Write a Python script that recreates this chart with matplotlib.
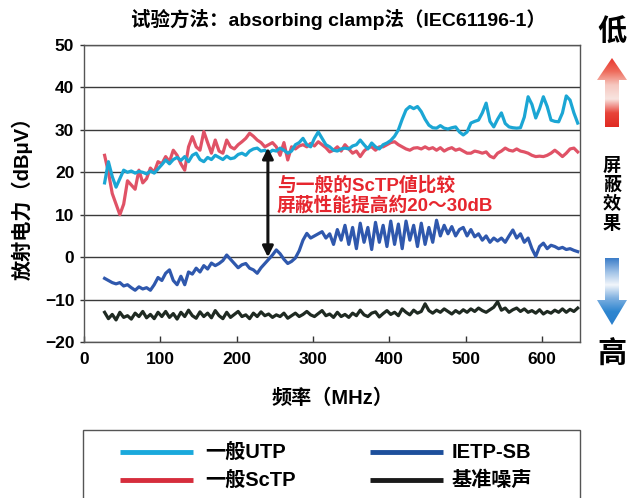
import numpy as np
import matplotlib
matplotlib.use("Agg")
import matplotlib.pyplot as plt
from matplotlib.patches import Polygon, Rectangle
from matplotlib.lines import Line2D
from matplotlib.colors import LinearSegmentedColormap

plt.rcParams['font.family'] = ['Liberation Sans', 'Noto Sans CJK SC', 'DejaVu Sans']
plt.rcParams['font.weight'] = 'bold'

# ---------------- data ----------------
freq = [27, 32, 37, 42, 47, 52, 57, 62, 67, 72, 77, 82, 87, 92, 97, 102, 107, 112, 117, 122,
        127, 132, 137, 142, 147, 152, 157, 162, 167, 172, 177, 182, 187, 192, 197, 202, 207, 212, 217, 222,
        227, 232, 237, 242, 247, 252, 257, 262, 267, 272, 277, 282, 287, 292, 297, 302, 307, 312, 317, 322,
        327, 332, 337, 342, 347, 352, 357, 362, 367, 372, 377, 382, 387, 392, 397, 402, 407, 412, 417, 422,
        427, 432, 437, 442, 447, 452, 457, 462, 467, 472, 477, 482, 487, 492, 497, 502, 507, 512, 517, 522,
        527, 532, 537, 542, 547, 552, 557, 562, 567, 572, 577, 582, 587, 592, 597, 602, 607, 612, 617, 622,
        627, 632, 637, 642, 647]

utp = [17.5, 22.5, 19.0, 16.5, 18.5, 20.5, 20.0, 20.3, 19.8, 20.2, 20.0, 19.6, 20.3, 19.8, 20.8, 21.8, 22.9, 22.0, 23.0, 23.5,
       22.8, 23.7, 22.5, 24.0, 24.5, 23.0, 22.5, 23.5, 23.0, 24.0, 23.5, 23.0, 23.8, 23.2, 23.4, 24.2, 24.5, 24.0, 25.0, 25.5,
       25.7, 25.0, 25.2, 24.5, 25.2, 25.0, 25.7, 25.2, 24.5, 25.0, 26.5, 27.0, 28.0, 26.5, 26.0, 28.0, 29.5, 28.0, 26.5, 26.0,
       25.2, 25.0, 25.5, 25.7, 25.5, 26.2, 26.5, 27.6, 26.5, 25.5, 26.9, 26.0, 25.5, 26.5, 26.9, 27.5, 28.5, 30.0, 32.5, 34.7,
       35.5, 35.0, 35.5, 34.3, 32.5, 31.1, 30.5, 30.4, 31.0, 30.4, 30.2, 30.5, 30.7, 29.5, 28.8, 29.5, 31.6, 32.0, 32.3, 34.0,
       36.3, 32.0, 30.7, 32.5, 34.0, 31.5, 30.7, 30.5, 30.4, 30.5, 33.0, 37.8, 36.0, 32.8, 35.0, 37.8, 35.5, 32.3, 32.0, 31.9,
       34.0, 38.0, 37.0, 34.0, 31.6]

sctp = [24.0, 20.0, 15.0, 12.5, 10.0, 12.5, 18.0, 17.0, 16.0, 20.5, 17.5, 18.5, 21.0, 20.0, 22.5, 22.0, 23.7, 22.5, 25.2, 24.0,
        22.0, 20.5, 26.0, 28.4, 26.0, 25.2, 29.6, 27.0, 24.5, 27.6, 25.0, 24.5, 27.6, 26.0, 25.5, 26.5, 27.2, 28.0, 29.2, 28.5,
        27.6, 27.0, 26.0, 26.5, 27.0, 26.0, 24.0, 27.0, 22.9, 26.0, 25.5, 26.2, 26.5, 26.0, 26.8, 26.2, 27.2, 26.5, 25.8, 24.8,
        25.2, 26.0, 25.0, 26.5, 25.5, 24.5, 25.0, 23.7, 25.0, 25.8, 26.0, 25.2, 26.0, 26.0, 26.5, 27.0, 27.2, 26.5, 26.0, 25.5,
        25.2, 25.7, 25.8, 25.5, 26.0, 25.5, 25.8, 25.2, 25.8, 25.0, 25.5, 25.8, 25.2, 25.5, 25.0, 24.5, 24.5, 25.0, 24.8, 24.5,
        24.8, 23.8, 23.4, 24.5, 25.0, 25.7, 25.2, 25.0, 25.5, 25.0, 24.8, 24.5, 24.0, 23.7, 23.8, 23.7, 24.0, 24.5, 25.2, 24.5,
        23.7, 24.5, 25.5, 25.7, 24.8]

ietp = [-5.0, -5.5, -6.0, -6.3, -6.0, -6.8, -6.5, -7.2, -7.8, -7.0, -7.5, -7.2, -7.8, -6.5, -4.8, -5.5, -3.8, -3.0, -5.5, -6.5,
        -4.5, -6.5, -3.5, -4.0, -2.6, -3.5, -2.0, -2.8, -1.4, -2.0, -1.5, -0.8, 0.5, -0.5, -1.5, -2.5, -1.8, -1.5, -2.6, -3.0,
        -3.8, -2.5, -1.5, -0.5, 0.5, 1.7, 0.8, -0.5, -1.5, -1.0, -0.2, 1.5, 4.0, 5.6, 4.5, 5.0, 5.5, 6.0, 4.5, 5.5,
        3.0, 6.5, 4.0, 7.5, 3.0, 7.0, 2.0, 8.0, 3.5, 7.0, 1.8, 8.2, 3.5, 7.5, 2.5, 8.5, 3.0, 7.8, 2.0, 8.5,
        4.0, 7.5, 2.5, 8.0, 3.0, 7.0, 3.5, 8.7, 5.0, 7.5, 5.5, 7.2, 5.0, 6.5, 7.0, 5.0, 6.5, 4.8, 5.5, 4.0,
        5.0, 3.5, 4.5, 3.8, 4.5, 3.5, 5.0, 6.4, 4.5, 5.5, 3.5, 4.5, 2.0, 0.2, 2.5, 3.3, 2.0, 2.8, 2.5, 2.0,
        2.3, 1.8, 2.0, 1.6, 1.3]

noise = [-13.0, -14.5, -13.5, -14.8, -13.0, -14.2, -13.8, -14.6, -13.2, -14.0, -12.8, -14.3, -13.5, -14.5, -13.0, -14.0, -12.8, -14.2, -13.3, -14.6,
         -13.0, -14.0, -12.5, -13.8, -14.4, -12.9, -14.0, -13.2, -14.3, -12.6, -13.8, -14.5, -13.0, -14.2, -13.5, -12.8, -14.0, -13.6, -14.5, -13.2,
         -14.0, -12.9, -13.8, -13.4, -14.2, -13.6, -14.0, -13.2, -14.4, -13.8, -13.2, -14.0, -13.5, -12.8, -13.6, -14.0, -13.3, -12.6, -13.8, -13.4,
         -14.2, -13.0, -14.0, -13.5, -14.2, -13.2, -13.8, -12.5, -13.6, -14.0, -13.2, -12.9, -14.1, -13.3, -12.6, -13.5, -13.0, -13.8, -12.2, -13.0,
         -13.6, -12.5, -13.2, -12.8, -11.0, -12.6, -13.2, -12.5, -13.0, -12.2, -12.8, -13.4, -12.6, -13.2, -12.4, -13.0, -12.2, -12.8, -12.0, -12.6,
         -13.0, -12.4, -11.8, -10.5, -12.5, -12.0, -13.0, -12.4, -12.0, -12.8, -12.2, -13.0, -12.6, -13.2, -12.4, -13.4, -12.8, -13.2, -12.5, -13.0,
         -12.2, -13.0, -12.3, -12.8, -12.0]

series_names = ['一般UTP', '一般ScTP', 'IETP-SB', '基准噪声']
series_vals = [utp, sctp, ietp, noise]
series_colors = ['#1ba6d4', '#e05266', '#2f58ad', '#1f2a22']
legend_colors = ['#1aa9dc', '#d62d3c', '#1d4f9c', '#1a1a1a']

xticks = [0, 100, 200, 300, 400, 500, 600]
yticks = [-20, -10, 0, 10, 20, 30, 40, 50]

# ---------------- figure ----------------
W, H = 630, 498
fig = plt.figure(figsize=(W / 100, H / 100), dpi=100)
fig.patch.set_facecolor('white')

def fx(px):
    return px / W

def fy(py):
    return 1 - py / H

ax = fig.add_axes([fx(84), fy(342), fx(580) - fx(84), fy(45) - fy(342)])
ax.set_xlim(0, 650)
ax.set_ylim(-20, 50)

for y in yticks:
    ax.axhline(y, color='#3a3a3a', lw=1.0, zorder=1)

order = [3, 2, 1, 0]
for i in order:
    ax.plot(freq, series_vals[i], color=series_colors[i], lw=2.3, zorder=3 + (i == 0))

ax.set_xticks(xticks)
ax.set_yticks(yticks)
ax.set_yticklabels([str(v).replace('-', '−') if v < 0 else str(v) for v in yticks])
ax.tick_params(axis='x', direction='in', length=4, width=1, color='#333333', labelsize=12.5, pad=7)
ax.tick_params(axis='y', direction='out', length=3, width=1, color='#333333', labelsize=12.5, pad=4)
for lab in ax.get_xticklabels() + ax.get_yticklabels():
    lab.set_fontweight('bold')
for s in ax.spines.values():
    s.set_color('#555555')
    s.set_linewidth(1.0)

ax.set_xlabel('频率（MHz）', fontsize=14.5, fontweight='bold', labelpad=16)
ax.set_ylabel('放射电力（dBμV）', fontsize=14.5, fontweight='bold', labelpad=9)

# annotation arrow and text
ax.annotate('', xy=(241, 0), xytext=(241, 25.8),
            arrowprops=dict(arrowstyle='<|-|>', color='#111111', lw=2.2,
                            mutation_scale=16, shrinkA=0, shrinkB=0), zorder=6)
ax.text(253, 17.0, '与一般的ScTP値比较', color='#e6262e', fontsize=13.5,
        fontweight='bold', va='center', ha='left', zorder=7)
ax.text(253, 12.3, '屏蔽性能提高約20～30dB', color='#e6262e', fontsize=13.5,
        fontweight='bold', va='center', ha='left', zorder=7)

# title
fig.text(fx(338), fy(19), '试验方法：absorbing clamp法（IEC61196-1）',
         ha='center', va='center', fontsize=14, fontweight='bold')

# right side indicator
fig.text(fx(612), fy(33), '低', ha='center', va='center', fontsize=21, fontweight='bold')
fig.text(fx(612), fy(355), '高', ha='center', va='center', fontsize=21, fontweight='bold')
for k, ch in enumerate('屏蔽效果'):
    fig.text(fx(612), fy(166 + k * 19.5), ch, ha='center', va='center', fontsize=13, fontweight='bold')

side = fig.add_axes([fx(592), fy(340), fx(632) - fx(592), fy(50) - fy(340)])
side.set_xlim(592, 632)
side.set_ylim(340, 50)
side.axis('off')

def grad_arrow(axh, pts, y0, y1, cmap):
    poly = Polygon(pts, closed=True, facecolor='none', edgecolor='none')
    axh.add_patch(poly)
    grad = np.linspace(0, 1, 256).reshape(-1, 1)
    im = axh.imshow(grad, extent=[592, 632, y1, y0], cmap=cmap, aspect='auto',
                    origin='upper', interpolation='bilinear')
    im.set_clip_path(poly)

red_cmap = LinearSegmentedColormap.from_list('r', ['#e8322a', '#ee6a5a', '#f6c8c0', '#f8e4e0', '#e8443a', '#e02a22'])
red_pts = [(612, 58), (627, 80), (619, 80), (619, 127), (605, 127), (605, 80), (597, 80)]
grad_arrow(side, red_pts, 58, 127, red_cmap)

blue_cmap = LinearSegmentedColormap.from_list('b', ['#3a7cc8', '#9dc0e6', '#f2f6fb', '#7fb0e0', '#2e86d0', '#2a7fcc'])
blue_pts = [(605, 258), (619, 258), (619, 300), (627, 300), (612, 325), (597, 300), (605, 300)]
grad_arrow(side, blue_pts, 258, 325, blue_cmap)

# legend box
fig.add_artist(Rectangle((fx(83), fy(510)), fx(580) - fx(83), fy(430) - fy(510),
                         transform=fig.transFigure, facecolor='none', edgecolor='#555555', lw=1.0))
leg_pos = [(120, 193, 205, 452), (120, 193, 205, 480), (370, 443, 452, 452), (370, 443, 452, 480)]
for (x0, x1, tx, ty), name, col in zip(leg_pos, series_names, legend_colors):
    fig.add_artist(Line2D([fx(x0), fx(x1)], [fy(ty), fy(ty)], transform=fig.transFigure,
                          color=col, lw=3.5, solid_capstyle='butt'))
    fig.text(fx(tx), fy(ty), name, ha='left', va='center', fontsize=14.5, fontweight='bold')

fig.savefig('out.png', dpi=100)
